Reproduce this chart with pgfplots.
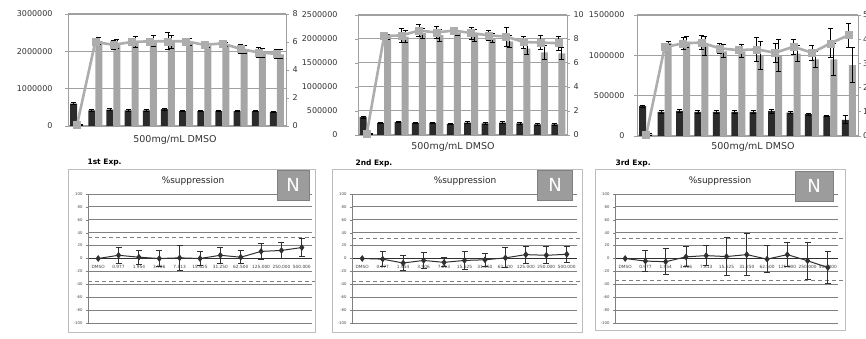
\documentclass[border=0pt]{standalone}
\usepackage{pgfplots}
\pgfplotsset{compat=1.18}
\usepackage{pgfplotstable}
\usepackage{fontspec}
\setmainfont{DejaVu Sans}
\definecolor{darkbar}{HTML}{2B2B2B}
\definecolor{lightbar}{HTML}{A6A6A6}
\definecolor{linegray}{HTML}{ADADAD}
\definecolor{gridgray}{HTML}{A0A0A0}
\definecolor{framegray}{HTML}{BDBDBD}
\definecolor{nbox}{HTML}{9C9C9C}
\definecolor{botline}{HTML}{303030}

\pgfplotstableread{
x dark de light le line lne
0 600000 30000 30000 20000 0.10 0
1 420000 25000 2280000 100000 6.00 0.15
2 440000 25000 2200000 120000 5.80 0.30
3 420000 25000 2250000 150000 6.00 0.20
4 420000 25000 2280000 150000 6.05 0.20
5 450000 25000 2250000 180000 6.05 0.60
6 400000 20000 2250000 100000 6.05 0.15
7 400000 20000 2150000 50000 5.80 0.10
8 400000 20000 2180000 50000 5.90 0.10
9 400000 20000 2050000 100000 5.50 0.35
10 400000 20000 1970000 120000 5.25 0.35
11 380000 20000 1920000 120000 5.15 0.35
}\tA
\pgfplotstableread{
x dark de light le line lne
0 370000 20000 20000 10000 0.10 0
1 250000 15000 2050000 50000 8.25 0.10
2 270000 15000 2050000 120000 8.30 0.60
3 250000 15000 2120000 100000 8.70 0.50
4 250000 15000 2080000 120000 8.55 0.50
5 230000 15000 2120000 50000 8.70 0.20
6 260000 15000 2080000 120000 8.50 0.50
7 240000 15000 2020000 100000 8.30 0.40
8 260000 15000 1950000 120000 8.20 0.80
9 240000 15000 1800000 120000 7.75 0.50
10 220000 15000 1720000 150000 7.70 0.60
11 220000 15000 1700000 120000 7.65 0.60
}\tB
\pgfplotstableread{
x dark de light le line lne
0 370000 15000 20000 10000 0.05 0
1 300000 20000 1150000 20000 3.67 0.10
2 310000 20000 1170000 70000 3.83 0.25
3 300000 20000 1120000 120000 3.86 0.30
4 300000 15000 1050000 80000 3.62 0.20
5 300000 15000 1050000 80000 3.55 0.15
6 300000 20000 1000000 170000 3.58 0.50
7 310000 25000 1000000 200000 3.44 0.40
8 290000 15000 1020000 100000 3.69 0.30
9 270000 10000 950000 100000 3.44 0.30
10 250000 10000 950000 200000 3.83 0.60
11 200000 50000 880000 220000 4.17 0.50
}\tC
\pgfplotstableread{
x y e
0 0 0
1 5 12
2 2 11
3 0 13
4 1 19
5 0 11
6 5 12
7 2 10
8 11 13
9 12.5 13
10 17 14
}\bA
\pgfplotstableread{
x y e
0 0 0
1 -1 11.5
2 -7 11
3 -3 12.5
4 -6 7
5 -3 13.5
6 -2 10
7 1 15.5
8 6 13
9 5 13
10 6.5 12
}\bB
\pgfplotstableread{
x y e
0 0 0
1 -4 16
2 -5 20
3 2.5 15.5
4 4.5 15
5 3 29.5
6 6 32
7 -1 21
8 6 18.5
9 -3.5 29
10 -14 25
}\bC

\pgfplotsset{
  topbars/.style={scale only axis, anchor=south west, ybar=0pt, bar width=7pt,
    ymin=0, xmin=-0.5, xmax=11.5, xtick=\empty, scaled y ticks=false,
    axis line style={gridgray, line width=0.8pt},
    ymajorgrids, grid style={gridgray, line width=1pt},
    ytick pos=left, tick align=outside, major tick length=3pt,
    ytick style={gridgray, line width=0.8pt},
    yticklabel style={font=\fontsize{8}{9}\selectfont, text=black!80},
    /pgf/number format/assume math mode=true, clip=false},
  topline/.style={scale only axis, anchor=south west, ymin=0, xmin=-0.5, xmax=11.5,
    axis x line=none, axis y line*=right, axis line style={gridgray, line width=0.8pt, -},
    tick align=outside, major tick length=3pt, ytick style={gridgray, line width=0.8pt},
    yticklabel style={font=\fontsize{8}{9}\selectfont, text=black!80},
    /pgf/number format/assume math mode=true, clip=false},
  darkp/.style={fill=darkbar, draw=none, error bars/.cd, y dir=both, y explicit,
    error bar style={black, line width=0.8pt},
    error mark options={rotate=90, black, mark size=2.5pt, line width=0.8pt}},
  lightp/.style={fill=lightbar, draw=none, error bars/.cd, y dir=both, y explicit,
    error bar style={black, line width=0.8pt},
    error mark options={rotate=90, black, mark size=2.5pt, line width=0.8pt}},
  linep/.style={color=linegray, line width=2.6pt, mark=square*, mark size=3.5pt,
    mark options={fill=linegray, draw=linegray, line width=0.5pt},
    error bars/.cd, y dir=both, y explicit,
    error bar style={black, line width=0.8pt},
    error mark options={rotate=90, black, mark size=2.5pt, line width=0.8pt}},
  botax/.style={scale only axis, anchor=south west, height=129pt,
    xmin=-0.5, xmax=10.5, ymin=-100, ymax=100, ytick={-100,-80,...,100},
    axis x line=middle, axis y line=left, axis line style={-},
    x axis line style={botline, line width=1.6pt},
    y axis line style={gray, line width=0.8pt},
    hide obscured x ticks=false, hide obscured y ticks=false,
    ymajorgrids, grid style={gray, line width=0.9pt},
    xtick={0,...,10},
    xticklabels={DMSO,0.977,1.954,3.906,7.813,15.625,31.250,62.500,125.000,250.000,500.000},
    x tick label style={font=\fontsize{4.3}{5}\selectfont, text=black!75, yshift=-1pt},
    y tick label style={font=\fontsize{3.8}{4}\selectfont, text=black!75},
    xtick style={draw=none}, ytick style={gray},
    tick align=outside, major tick length=2pt, clip=false,
    /pgf/number format/assume math mode=true},
  botp/.style={botline, line width=1pt, mark=diamond*, mark size=2.6pt,
    mark options={fill=botline, draw=botline},
    error bars/.cd, y dir=both, y explicit,
    error bar style={botline, line width=0.9pt},
    error mark options={rotate=90, botline, mark size=3pt, line width=1pt}},
}

\begin{document}
\begin{tikzpicture}[x=1pt,y=1pt]
\path[use as bounding box] (0,0) rectangle (866,339);

% ---------- Top panel 1 ----------
\begin{axis}[topbars, at={(68pt,213pt)}, width=218pt, height=112pt, ymax=3000000,
  ytick={0,1000000,2000000,3000000}, yticklabels={0,1000000,2000000,3000000},
  yticklabel style={xshift=-9pt}]
\addplot[darkp] table[x=x, y=dark, y error=de]{\tA};
\addplot[lightp] table[x=x, y=light, y error=le]{\tA};
\end{axis}
\begin{axis}[topline, at={(68pt,213pt)}, width=218pt, height=112pt, ymax=8,
  ytick={0,2,4,6,8}, yticklabel style={xshift=0pt}]
\addplot[linep] table[x=x, y=line, y error=lne]{\tA};
\end{axis}
\node[font=\fontsize{9.5}{10}\selectfont, text=black!80] at (175,199) {500mg/mL DMSO};

% ---------- Top panel 2 ----------
\begin{axis}[topbars, at={(358pt,204pt)}, width=209pt, height=120pt, ymax=2500000,
  ytick={0,500000,1000000,1500000,2000000,2500000},
  yticklabels={0,500000,1000000,1500000,2000000,2500000},
  yticklabel style={xshift=-14pt}]
\addplot[darkp] table[x=x, y=dark, y error=de]{\tB};
\addplot[lightp] table[x=x, y=light, y error=le]{\tB};
\end{axis}
\begin{axis}[topline, at={(358pt,204pt)}, width=209pt, height=120pt, ymax=10,
  ytick={0,2,4,6,8,10}]
\addplot[linep] table[x=x, y=line, y error=lne]{\tB};
\end{axis}
\node[font=\fontsize{9.5}{10}\selectfont, text=black!80] at (453,192) {500mg/mL DMSO};

% ---------- Top panel 3 ----------
\begin{axis}[topbars, at={(637pt,203pt)}, width=221pt, height=121pt, ymax=1500000,
  ytick={0,500000,1000000,1500000}, yticklabels={0,500000,1000000,1500000},
  yticklabel style={xshift=-6pt}]
\addplot[darkp] table[x=x, y=dark, y error=de]{\tC};
\addplot[lightp] table[x=x, y=light, y error=le]{\tC};
\end{axis}
\begin{axis}[topline, at={(637pt,203pt)}, width=221pt, height=121pt, ymax=5,
  ytick={0,1,2,3,4,5}, yticklabel style={xshift=-1.5pt}]
\addplot[linep] table[x=x, y=line, y error=lne]{\tC};
\end{axis}
\node[font=\fontsize{9.5}{10}\selectfont, text=black!80] at (753,192) {500mg/mL DMSO};

% ---------- Bottom panel 1 ----------
\draw[framegray, line width=0.9pt] (68,7) rectangle (315,170);
\node[anchor=west, font=\bfseries\fontsize{7.5}{8}\selectfont] at (84,176) {1st Exp.};
\begin{axis}[botax, at={(88pt,16pt)}, width=224pt]
\addplot[gray, dashed, line width=0.9pt, dash pattern=on 4pt off 3pt, forget plot] coordinates {(-0.5,32) (10.65,32)};
\addplot[gray, dashed, line width=0.9pt, dash pattern=on 4pt off 3pt, forget plot] coordinates {(-0.5,-35) (10.65,-35)};
\addplot[botp] table[x=x, y=y, y error=e]{\bA};
\end{axis}
\node[font=\fontsize{9}{10}\selectfont, text=black!85] at (193,158) {\%suppression};
\node[fill=nbox, draw=gray, minimum width=32pt, minimum height=30pt, inner sep=0pt,
  text=white, font=\fontsize{18}{18}\selectfont] at (293,154) {N};

% ---------- Bottom panel 2 ----------
\draw[framegray, line width=0.9pt] (332,7) rectangle (582,170);
\node[anchor=west, font=\bfseries\fontsize{7.5}{8}\selectfont] at (352,176) {2nd Exp.};
\begin{axis}[botax, at={(352pt,16pt)}, width=225pt]
\addplot[gray, dashed, line width=0.9pt, dash pattern=on 4pt off 3pt, forget plot] coordinates {(-0.5,31) (10.75,31)};
\addplot[gray, dashed, line width=0.9pt, dash pattern=on 4pt off 3pt, forget plot] coordinates {(-0.5,-36) (10.75,-36)};
\addplot[botp] table[x=x, y=y, y error=e]{\bB};
\end{axis}
\node[font=\fontsize{9}{10}\selectfont, text=black!85] at (465,158) {\%suppression};
\node[fill=nbox, draw=gray, minimum width=35pt, minimum height=30pt, inner sep=0pt,
  text=white, font=\fontsize{18}{18}\selectfont] at (555,154) {N};

% ---------- Bottom panel 3 ----------
\draw[framegray, line width=0.9pt] (595,9) rectangle (845,170);
\node[anchor=west, font=\bfseries\fontsize{7.5}{8}\selectfont] at (612,176) {3rd Exp.};
\begin{axis}[botax, at={(615pt,16pt)}, width=223pt]
\addplot[gray, dashed, line width=0.9pt, dash pattern=on 4pt off 3pt, forget plot] coordinates {(-0.5,31) (10.85,31)};
\addplot[gray, dashed, line width=0.9pt, dash pattern=on 4pt off 3pt, forget plot] coordinates {(-0.5,-34) (10.85,-34)};
\addplot[botp] table[x=x, y=y, y error=e]{\bC};
\end{axis}
\node[font=\fontsize{9}{10}\selectfont, text=black!85] at (720,158) {\%suppression};
\node[fill=nbox, draw=gray, minimum width=38pt, minimum height=30pt, inner sep=0pt,
  text=white, font=\fontsize{18}{18}\selectfont] at (814,153) {N};
\end{tikzpicture}
\end{document}
